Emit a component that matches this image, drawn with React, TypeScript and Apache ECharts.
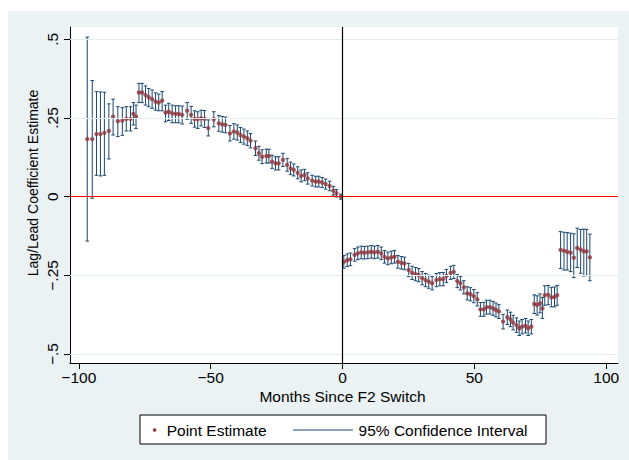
import React, { useEffect, useRef } from "react";
import * as echarts from "echarts";

// Lead/lag months and estimates
const preMonths = [-96.8, -94.9, -93.3, -91.8, -90.3, -88.6, -87.0, -85.2, -83.5, -82.0, -80.4, -79.3, -78.3, -77.2, -76.0, -74.7, -73.5, -72.2, -70.9, -69.7, -68.4, -67.1, -65.9, -64.6, -63.3, -62.1, -60.8, -58.9, -57.4, -56.1, -54.9, -53.6, -52.3, -50.9, -48.8, -46.9, -45.6, -44.4, -42.7, -41.2, -39.9, -38.7, -37.4, -36.1, -34.9, -33.0, -31.7, -30.5, -28.9, -27.9, -26.7, -25.4, -24.2, -22.6, -21.0, -19.7, -18.5, -17.0, -15.7, -14.4, -13.2, -11.5, -10.2, -9.0, -7.7, -6.4, -4.9, -3.5, -2.3, -0.6];
const preEst = [0.183, 0.183, 0.199, 0.199, 0.203, 0.209, 0.254, 0.240, 0.242, 0.247, 0.247, 0.263, 0.254, 0.331, 0.331, 0.323, 0.316, 0.310, 0.302, 0.299, 0.305, 0.267, 0.270, 0.265, 0.263, 0.263, 0.260, 0.273, 0.260, 0.247, 0.246, 0.249, 0.247, 0.218, 0.246, 0.233, 0.230, 0.228, 0.201, 0.207, 0.204, 0.196, 0.191, 0.186, 0.178, 0.154, 0.138, 0.127, 0.129, 0.129, 0.111, 0.106, 0.106, 0.117, 0.101, 0.090, 0.085, 0.076, 0.066, 0.069, 0.058, 0.051, 0.048, 0.048, 0.045, 0.040, 0.034, 0.019, 0.011, 0.000];
const preLo = [-0.141, -0.005, 0.068, 0.066, 0.068, 0.120, 0.196, 0.191, 0.195, 0.209, 0.209, 0.228, 0.217, 0.299, 0.299, 0.291, 0.286, 0.281, 0.275, 0.273, 0.273, 0.238, 0.242, 0.235, 0.235, 0.235, 0.231, 0.246, 0.233, 0.221, 0.217, 0.225, 0.220, 0.193, 0.222, 0.208, 0.205, 0.203, 0.177, 0.183, 0.180, 0.172, 0.167, 0.163, 0.155, 0.131, 0.116, 0.105, 0.107, 0.107, 0.090, 0.085, 0.085, 0.096, 0.081, 0.070, 0.066, 0.057, 0.047, 0.051, 0.040, 0.034, 0.031, 0.031, 0.029, 0.024, 0.019, 0.005, -0.001, -0.008];
const preHi = [0.507, 0.369, 0.334, 0.333, 0.332, 0.295, 0.310, 0.286, 0.283, 0.286, 0.286, 0.299, 0.291, 0.360, 0.360, 0.352, 0.344, 0.339, 0.330, 0.326, 0.334, 0.291, 0.297, 0.291, 0.289, 0.289, 0.288, 0.299, 0.287, 0.273, 0.270, 0.275, 0.274, 0.244, 0.270, 0.258, 0.255, 0.253, 0.226, 0.232, 0.228, 0.220, 0.215, 0.209, 0.201, 0.177, 0.160, 0.149, 0.151, 0.151, 0.132, 0.127, 0.127, 0.138, 0.121, 0.110, 0.104, 0.095, 0.085, 0.087, 0.076, 0.068, 0.065, 0.065, 0.061, 0.056, 0.049, 0.033, 0.023, 0.008];

const postMonths = [0.5, 1.8, 3.0, 4.6, 5.8, 7.1, 8.3, 9.6, 10.9, 12.1, 13.4, 14.7, 15.9, 17.2, 18.5, 19.7, 21.0, 22.3, 23.5, 25.1, 26.4, 27.7, 28.9, 30.2, 31.5, 32.7, 34.0, 35.6, 36.9, 38.2, 39.4, 41.0, 42.2, 43.5, 44.7, 46.0, 47.3, 48.5, 49.8, 51.1, 52.3, 53.6, 54.6, 55.9, 57.1, 58.2, 59.3, 60.9, 62.5, 63.7, 64.7, 66.0, 67.0, 68.1, 69.4, 70.4, 71.6, 72.7, 73.8, 74.9, 75.8, 76.7, 78.0, 79.2, 80.4, 81.4, 82.7, 84.0, 85.2, 86.5, 87.7, 89.0, 90.3, 91.5, 92.6, 93.8];
const postEst = [-0.207, -0.202, -0.199, -0.185, -0.180, -0.177, -0.178, -0.177, -0.175, -0.177, -0.175, -0.180, -0.191, -0.196, -0.193, -0.191, -0.207, -0.210, -0.212, -0.233, -0.242, -0.246, -0.249, -0.259, -0.265, -0.270, -0.275, -0.265, -0.262, -0.262, -0.252, -0.242, -0.239, -0.268, -0.275, -0.288, -0.307, -0.310, -0.316, -0.326, -0.358, -0.358, -0.351, -0.351, -0.355, -0.360, -0.365, -0.397, -0.383, -0.390, -0.400, -0.408, -0.418, -0.413, -0.410, -0.418, -0.413, -0.341, -0.344, -0.339, -0.355, -0.313, -0.312, -0.320, -0.319, -0.313, -0.169, -0.172, -0.175, -0.178, -0.194, -0.163, -0.168, -0.174, -0.174, -0.193];
const postLo = [-0.227, -0.222, -0.219, -0.205, -0.200, -0.197, -0.198, -0.197, -0.195, -0.197, -0.195, -0.200, -0.211, -0.216, -0.213, -0.211, -0.227, -0.230, -0.232, -0.254, -0.263, -0.267, -0.270, -0.280, -0.286, -0.291, -0.296, -0.286, -0.283, -0.283, -0.273, -0.263, -0.260, -0.289, -0.296, -0.309, -0.328, -0.331, -0.337, -0.347, -0.380, -0.380, -0.373, -0.373, -0.377, -0.382, -0.387, -0.420, -0.406, -0.413, -0.423, -0.431, -0.441, -0.436, -0.433, -0.441, -0.436, -0.371, -0.376, -0.369, -0.387, -0.345, -0.343, -0.350, -0.350, -0.345, -0.228, -0.233, -0.233, -0.238, -0.257, -0.225, -0.243, -0.252, -0.250, -0.267];
const postHi = [-0.187, -0.182, -0.179, -0.165, -0.160, -0.157, -0.158, -0.157, -0.155, -0.157, -0.155, -0.160, -0.171, -0.176, -0.173, -0.171, -0.187, -0.190, -0.192, -0.212, -0.221, -0.225, -0.228, -0.238, -0.244, -0.249, -0.254, -0.244, -0.241, -0.241, -0.231, -0.221, -0.218, -0.247, -0.254, -0.267, -0.286, -0.289, -0.295, -0.305, -0.336, -0.336, -0.329, -0.329, -0.333, -0.338, -0.343, -0.374, -0.360, -0.367, -0.377, -0.385, -0.395, -0.390, -0.387, -0.395, -0.390, -0.312, -0.315, -0.309, -0.320, -0.283, -0.282, -0.288, -0.287, -0.282, -0.111, -0.113, -0.114, -0.116, -0.118, -0.100, -0.104, -0.103, -0.104, -0.119];

const xTicks = [-100, -50, 0, 50, 100];
const xTickLabels = ["\u2212100", "\u221250", "0", "50", "100"];
const yTicks = [-0.5, -0.25, 0, 0.25, 0.5];
const yTickLabels = ["\u2212.5", "\u2212.25", "0", ".25", ".5"];

const xTitle = "Months Since F2 Switch";
const yTitle = "Lag/Lead Coefficient Estimate";
const pointName = "Point Estimate";
const ciName = "95% Confidence Interval";

const NAVY = "#1A476F";
const MAROON = "#90353B";
const BG = "#EAF2F3";
const FONT = "'Liberation Sans', Arial, Helvetica, sans-serif";

export default function App() {
  const ref = useRef<HTMLDivElement>(null);
  useEffect(() => {
    if (!ref.current) return;
    const chart = echarts.init(ref.current, undefined, { renderer: "svg" });
    const months = preMonths.concat(postMonths);
    const est = preEst.concat(postEst);
    const lo = preLo.concat(postLo);
    const hi = preHi.concat(postHi);
    const ciData = months.map((m, i) => [m, lo[i], hi[i]]);
    const ptData = months.map((m, i) => [m, est[i]]);

    const xLabelMap: Record<string, string> = {};
    xTicks.forEach((t, i) => (xLabelMap[String(t)] = xTickLabels[i]));
    const yLabelMap: Record<string, string> = {};
    yTicks.forEach((t, i) => (yLabelMap[String(t)] = yTickLabels[i]));

    chart.setOption({
      animation: false,
      backgroundColor: BG,
      grid: {
        left: 62,
        top: 16,
        width: 548,
        height: 336,
        show: true,
        backgroundColor: "#ffffff",
        borderWidth: 0,
      },
      xAxis: {
        type: "value",
        min: -103.34,
        max: 104.47,
        axisLine: { show: true, onZero: false, lineStyle: { color: "#000", width: 1 } },
        axisTick: { show: true, customValues: xTicks, length: 6, lineStyle: { color: "#000" } },
        axisLabel: {
          customValues: xTicks,
          margin: 6,
          color: "#000",
          fontFamily: FONT,
          fontSize: 15.5,
          formatter: (v: number) => xLabelMap[String(v)] ?? String(v),
        },
        splitLine: { show: false },
      },
      yAxis: {
        type: "value",
        min: -0.5284,
        max: 0.5392,
        axisLine: { show: true, onZero: false, lineStyle: { color: "#000", width: 1 } },
        axisTick: { show: true, customValues: yTicks, length: 6, lineStyle: { color: "#000" } },
        axisLabel: {
          customValues: yTicks,
          rotate: 90,
          margin: 10,
          color: "#000",
          fontFamily: FONT,
          fontSize: 15.5,
          formatter: (v: number) => yLabelMap[String(v)] ?? String(v),
        },
        splitLine: { show: false },
      },
      series: [
        {
          name: "grid",
          type: "line",
          data: [],
          z: 1,
          silent: true,
          markLine: {
            silent: true,
            symbol: "none",
            label: { show: false },
            lineStyle: { color: "#E1ECEE", width: 1, type: "solid" },
            data: yTicks.map((t) => ({ yAxis: t })),
          },
        },
        {
          name: "refs",
          type: "line",
          data: [],
          z: 2,
          silent: true,
          markLine: {
            silent: true,
            symbol: "none",
            label: { show: false },
            data: [
              { yAxis: 0, lineStyle: { color: "#FF0000", width: 1.2, type: "solid" } },
              { xAxis: 0, lineStyle: { color: "#000000", width: 1.2, type: "solid" } },
            ],
          },
        },
        {
          name: ciName,
          type: "custom",
          z: 3,
          data: ciData,
          encode: { x: 0, y: [1, 2] },
          renderItem: (_params: any, api: any) => {
            const x = api.value(0);
            const pLo = api.coord([x, api.value(1)]);
            const pHi = api.coord([x, api.value(2)]);
            const w = 1.8;
            const st = { stroke: NAVY, lineWidth: 1 };
            return {
              type: "group",
              children: [
                { type: "line", shape: { x1: pLo[0], y1: pLo[1], x2: pHi[0], y2: pHi[1] }, style: st },
                { type: "line", shape: { x1: pLo[0] - w, y1: pLo[1], x2: pLo[0] + w, y2: pLo[1] }, style: st },
                { type: "line", shape: { x1: pHi[0] - w, y1: pHi[1], x2: pHi[0] + w, y2: pHi[1] }, style: st },
              ],
            };
          },
        },
        {
          name: pointName,
          type: "scatter",
          z: 4,
          data: ptData,
          symbol: "circle",
          symbolSize: 4.4,
          itemStyle: { color: MAROON },
        },
      ],
      graphic: [
        {
          type: "text",
          x: 334.5,
          y: 385,
          style: { text: xTitle, fontFamily: FONT, fontSize: 15.5, fill: "#000", textAlign: "center", textVerticalAlign: "middle" },
        },
        {
          type: "text",
          x: 25,
          y: 172,
          rotation: Math.PI / 2,
          style: { text: yTitle, fontFamily: FONT, fontSize: 14, fill: "#000", textAlign: "center", textVerticalAlign: "middle" },
        },
        {
          type: "rect",
          shape: { x: 132, y: 404, width: 406, height: 29 },
          style: { fill: "#fff", stroke: "#000", lineWidth: 1 },
        },
        { type: "circle", shape: { cx: 146.6, cy: 419, r: 1.8 }, style: { fill: MAROON } },
        {
          type: "text",
          x: 158.7,
          y: 419,
          style: { text: pointName, fontFamily: FONT, fontSize: 15.5, fill: "#000", textAlign: "left", textVerticalAlign: "middle" },
        },
        { type: "line", shape: { x1: 285, y1: 419, x2: 345, y2: 419 }, style: { stroke: NAVY, lineWidth: 1 } },
        {
          type: "text",
          x: 350.6,
          y: 419,
          style: { text: ciName, fontFamily: FONT, fontSize: 15.5, fill: "#000", textAlign: "left", textVerticalAlign: "middle" },
        },
      ],
    });
    return () => chart.dispose();
  }, []);
  return (
    <div
      ref={ref}
      style={{ position: "absolute", left: 8, top: 11, width: 621, height: 449 }}
    />
  );
}
